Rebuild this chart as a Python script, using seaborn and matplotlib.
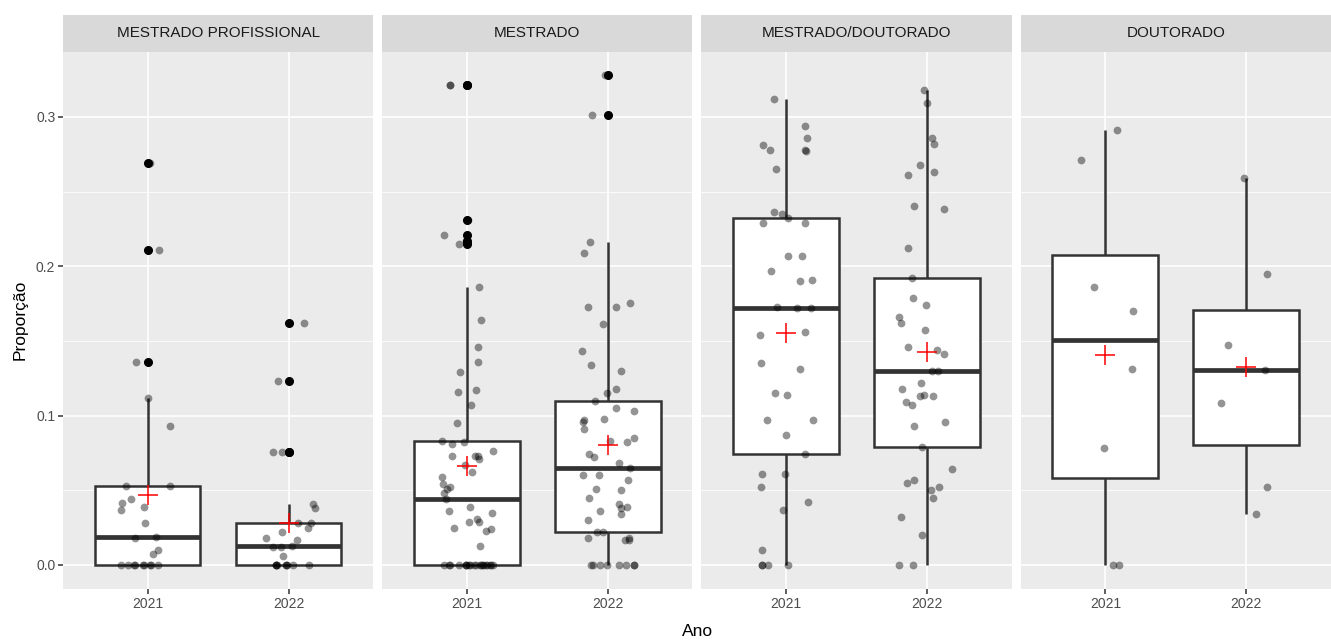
import numpy as np
import pandas as pd
import seaborn as sns
import matplotlib.pyplot as plt
from matplotlib.patches import Rectangle

# values (proportion per program)
facets = ["MESTRADO PROFISSIONAL", "MESTRADO", "MESTRADO/DOUTORADO", "DOUTORADO"]
years = ["2021", "2022"]

mp_2021 = [0.269, 0.211, 0.136, 0.1115, 0.093, 0.053, 0.053, 0.044, 0.0416, 0.039,
           0.037, 0.028, 0.019, 0.018, 0.010, 0.007, 0, 0, 0, 0, 0, 0, 0, 0, 0]
mp_2022 = [0.162, 0.123, 0.0755, 0.0755, 0.041, 0.038, 0.028, 0.028, 0.025, 0.022,
           0.018, 0.017, 0.013, 0.012, 0.012, 0.006, 0, 0, 0, 0, 0, 0, 0, 0, 0]
m_2021 = [0.321, 0.321, 0.231, 0.221, 0.217, 0.215, 0.186, 0.164, 0.146, 0.136,
          0.129, 0.117, 0.116, 0.107, 0.095, 0.082, 0.083, 0.081, 0.076, 0.073,
          0.073, 0.073, 0.071, 0.067, 0.062, 0.059, 0.054, 0.052, 0.051, 0.048,
          0.044, 0.039, 0.036, 0.035, 0.031, 0.029, 0.029, 0.025, 0.024, 0.023,
          0.013, 0, 0, 0, 0, 0, 0, 0, 0, 0, 0, 0, 0, 0, 0, 0, 0, 0, 0, 0, 0]
m_2022 = [0.328, 0.301, 0.216, 0.209, 0.1755, 0.173, 0.173, 0.161, 0.143, 0.134,
          0.130, 0.118, 0.115, 0.110, 0.105, 0.103, 0.098, 0.097, 0.096, 0.091,
          0.085, 0.083, 0.082, 0.074, 0.072, 0.068, 0.065, 0.060, 0.060, 0.057,
          0.051, 0.050, 0.045, 0.041, 0.039, 0.038, 0.036, 0.034, 0.030, 0.022,
          0.022, 0.018, 0.018, 0.017, 0.017, 0, 0, 0, 0, 0, 0, 0, 0]
md_2021 = [0.312, 0.294, 0.286, 0.281, 0.278, 0.278, 0.277, 0.265, 0.236, 0.235,
           0.232, 0.229, 0.229, 0.207, 0.207, 0.197, 0.191, 0.190, 0.173, 0.172,
           0.172, 0.156, 0.154, 0.135, 0.131, 0.115, 0.114, 0.097, 0.097, 0.087,
           0.074, 0.061, 0.061, 0.052, 0.042, 0.037, 0.010, 0, 0, 0, 0]
md_2022 = [0.318, 0.309, 0.286, 0.282, 0.268, 0.263, 0.261, 0.240, 0.238, 0.212,
           0.192, 0.179, 0.174, 0.166, 0.162, 0.157, 0.146, 0.144, 0.141, 0.130,
           0.130, 0.122, 0.118, 0.114, 0.113, 0.113, 0.109, 0.107, 0.096, 0.093,
           0.079, 0.064, 0.057, 0.055, 0.052, 0.050, 0.045, 0.032, 0.020, 0, 0]
d_2021 = [0.291, 0.271, 0.186, 0.170, 0.131, 0.078, 0, 0]
d_2022 = [0.259, 0.195, 0.147, 0.1305, 0.1085, 0.052, 0.034]

groups = {
    ("MESTRADO PROFISSIONAL", "2021"): mp_2021,
    ("MESTRADO PROFISSIONAL", "2022"): mp_2022,
    ("MESTRADO", "2021"): m_2021,
    ("MESTRADO", "2022"): m_2022,
    ("MESTRADO/DOUTORADO", "2021"): md_2021,
    ("MESTRADO/DOUTORADO", "2022"): md_2022,
    ("DOUTORADO", "2021"): d_2021,
    ("DOUTORADO", "2022"): d_2022,
}
rows = [(f, a, v) for (f, a), vals in groups.items() for v in vals]
df = pd.DataFrame(rows, columns=["nivel", "Ano", "prop"])

plt.rcParams['font.family'] = ['Liberation Sans', 'DejaVu Sans']
np.random.seed(3)

fig, axes = plt.subplots(1, 4, figsize=(13.31, 6.4), dpi=100, sharey=True)
fig.subplots_adjust(left=0.0473, right=1.0, bottom=0.0797, top=0.919, wspace=0.029)

for i, (ax, nivel) in enumerate(zip(axes, facets)):
    sub = df[df["nivel"] == nivel]
    ax.set_facecolor("#EBEBEB")

    # box + outliers, then jittered points, then mean cross
    sns.boxplot(data=sub, x="Ano", y="prop", order=years, ax=ax, width=0.75,
                color="white", linecolor="#333333", linewidth=1.8,
                showcaps=False,
                medianprops=dict(linewidth=3.4, color="#333333"),
                flierprops=dict(marker="o", markerfacecolor="black",
                                markeredgecolor="black", markersize=5.5))
    sns.stripplot(data=sub, x="Ano", y="prop", order=years, ax=ax, jitter=0.2,
                  color="black", alpha=0.42, size=5.6, linewidth=0, zorder=4)
    sns.pointplot(data=sub, x="Ano", y="prop", order=years, ax=ax,
                  estimator="mean", errorbar=None, marker="+", linestyle="none",
                  color="red", markersize=14, markeredgewidth=1.1, zorder=5)

    ax.set_xlim(-0.6, 1.6)
    ax.set_ylim(-0.0161, 0.3435)
    ax.set_yticks([0.0, 0.1, 0.2, 0.3])
    ax.set_yticks([0.05, 0.15, 0.25], minor=True)
    ax.set_axisbelow(True)
    ax.grid(True, which="major", color="white", linewidth=1.2)
    ax.grid(True, which="minor", axis="y", color="white", linewidth=0.55)
    for s in ax.spines.values():
        s.set_visible(False)
    ax.set_xlabel("")
    ax.set_ylabel("")
    ax.tick_params(axis="both", which="major", length=3.5, width=1.1, color="#333333",
                   labelsize=10, labelcolor="#4D4D4D", pad=2)
    ax.tick_params(axis="y", which="minor", length=0)
    if i > 0:
        ax.tick_params(axis="y", which="major", left=False)

    # facet strip
    ax.add_patch(Rectangle((0, 1.0), 1, 0.0689, transform=ax.transAxes,
                           facecolor="#D9D9D9", edgecolor="none", clip_on=False))
    ax.text(0.5, 1.0345, nivel, transform=ax.transAxes, ha="center", va="center",
            fontsize=11, color="#1A1A1A")

axes[0].yaxis.set_major_formatter(plt.FuncFormatter(lambda v, p: f"{v:.1f}"))

fig.text(0.524, 0.014, "Ano", ha="center", va="center", fontsize=12.5, color="black")
fig.text(0.015, 0.5, "Proporção", ha="center", va="center", rotation=90,
         fontsize=12.5, color="black")

fig.savefig("out.png", dpi=100)
